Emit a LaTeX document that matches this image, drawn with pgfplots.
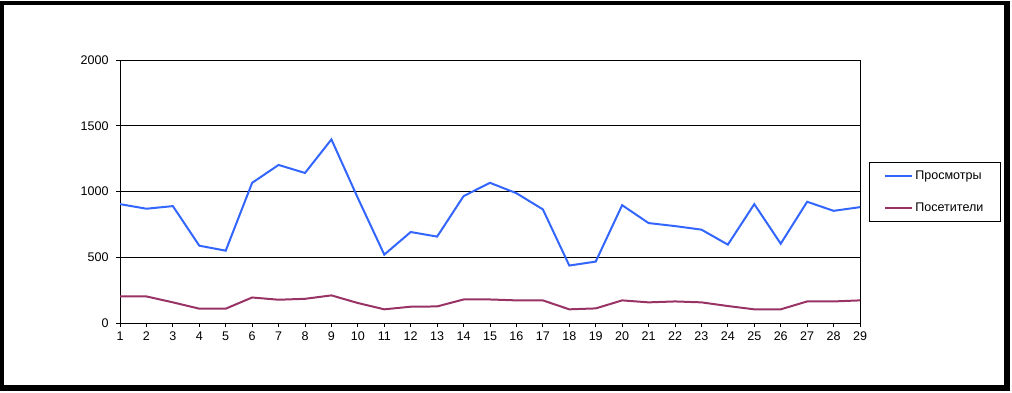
\documentclass[border=0pt]{standalone}
\usepackage{fontspec}
\setmainfont{Liberation Sans}
\usepackage{pgfplots}
\pgfplotsset{compat=1.18}
\definecolor{views}{HTML}{3366FF}
\definecolor{visitors}{HTML}{993366}
\begin{document}
\begin{tikzpicture}
\begin{scope}[x=0.75pt,y=-0.75pt]
\path[use as bounding box] (0,0) rectangle (1012,392);
\fill[black] (0,1) rectangle (1010,391);
\fill[white] (4,5) rectangle (1004,385);
\end{scope}
\begin{axis}[
  at={(90pt,-242.25pt)}, anchor=south west,
  scale only axis, width=555pt, height=197.25pt,
  xmin=1, xmax=29, ymin=0, ymax=2000,
  xtick={1,...,29}, ytick={0,500,1000,1500,2000},
  ymajorgrids, grid style={black, line width=0.75pt},
  axis line style={black, line width=0.75pt},
  tick style={black, line width=0.75pt},
  tick align=outside, major tick length=3pt,
  xtick pos=bottom, ytick pos=left,
  /pgf/number format/assume math mode=true,
  /pgf/number format/set thousands separator={},
  tick label style={font=\fontsize{9.4}{11}\selectfont},
  yticklabel style={xshift=-2pt},
  legend style={at={(1.012,0.612)}, anchor=north west, draw=black, line width=0.75pt,
    font=\fontsize{9.4}{11}\selectfont, inner xsep=11pt, inner ysep=4pt,
    row sep=12pt, cells={anchor=west}},
  legend image code/.code={\draw[#1, line width=1.5pt] (0pt,0pt) -- (20pt,0pt);},
]
\addplot[views, line width=1.5pt] coordinates {
(1,904)(2,869)(3,889)(4,588)(5,550)(6,1066)(7,1202)(8,1141)(9,1396)(10,950)
(11,520)(12,692)(13,657)(14,965)(15,1066)(16,987)(17,864)(18,437)(19,467)(20,896)
(21,760)(22,737)(23,710)(24,596)(25,904)(26,603)(27,922)(28,853)(29,881)};
\addlegendentry{Просмотры}
\addplot[visitors, line width=1.5pt] coordinates {
(1,202)(2,202)(3,157)(4,109)(5,109)(6,194)(7,177)(8,184)(9,210)(10,152)
(11,104)(12,124)(13,126)(14,179)(15,179)(16,172)(17,172)(18,104)(19,111)(20,172)
(21,157)(22,164)(23,157)(24,129)(25,104)(26,104)(27,164)(28,164)(29,172)};
\addlegendentry{Посетители}
\end{axis}
\end{tikzpicture}
\end{document}
